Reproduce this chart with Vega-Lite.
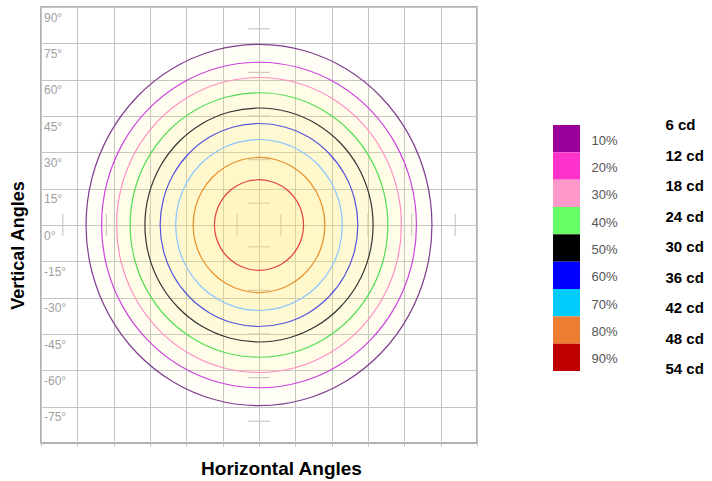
{
"$schema":"https://vega.github.io/schema/vega-lite/v6.json",
"autosize":{"type":"pad"},
"padding":{"left":8,"top":6,"right":0,"bottom":0},
"background":"white",
"datasets":{
"contours":[
{"c":"10%","o":0,"x":71.4,"y":0},{"c":"10%","o":1,"x":68.97,"y":19.31},{"c":"10%","o":2,"x":61.83,"y":37.3},{"c":"10%","o":3,"x":50.49,"y":52.75},{"c":"10%","o":4,"x":35.7,"y":64.6},{"c":"10%","o":5,"x":18.48,"y":72.06},{"c":"10%","o":6,"x":0,"y":74.6},{"c":"10%","o":7,"x":-18.48,"y":72.06},{"c":"10%","o":8,"x":-35.7,"y":64.6},{"c":"10%","o":9,"x":-50.49,"y":52.75},{"c":"10%","o":10,"x":-61.83,"y":37.3},{"c":"10%","o":11,"x":-68.97,"y":19.31},{"c":"10%","o":12,"x":-71.4,"y":0},{"c":"10%","o":13,"x":-68.97,"y":-19.31},{"c":"10%","o":14,"x":-61.83,"y":-37.3},{"c":"10%","o":15,"x":-50.49,"y":-52.75},{"c":"10%","o":16,"x":-35.7,"y":-64.6},{"c":"10%","o":17,"x":-18.48,"y":-72.06},{"c":"10%","o":18,"x":0,"y":-74.6},{"c":"10%","o":19,"x":18.48,"y":-72.06},{"c":"10%","o":20,"x":35.7,"y":-64.6},{"c":"10%","o":21,"x":50.49,"y":-52.75},{"c":"10%","o":22,"x":61.83,"y":-37.3},{"c":"10%","o":23,"x":68.97,"y":-19.31},
{"c":"20%","o":0,"x":65,"y":0},{"c":"20%","o":1,"x":62.78,"y":17.39},{"c":"20%","o":2,"x":56.29,"y":33.6},{"c":"20%","o":3,"x":45.96,"y":47.52},{"c":"20%","o":4,"x":32.5,"y":58.2},{"c":"20%","o":5,"x":16.82,"y":64.91},{"c":"20%","o":6,"x":0,"y":67.2},{"c":"20%","o":7,"x":-16.82,"y":64.91},{"c":"20%","o":8,"x":-32.5,"y":58.2},{"c":"20%","o":9,"x":-45.96,"y":47.52},{"c":"20%","o":10,"x":-56.29,"y":33.6},{"c":"20%","o":11,"x":-62.78,"y":17.39},{"c":"20%","o":12,"x":-65,"y":0},{"c":"20%","o":13,"x":-62.78,"y":-17.39},{"c":"20%","o":14,"x":-56.29,"y":-33.6},{"c":"20%","o":15,"x":-45.96,"y":-47.52},{"c":"20%","o":16,"x":-32.5,"y":-58.2},{"c":"20%","o":17,"x":-16.82,"y":-64.91},{"c":"20%","o":18,"x":0,"y":-67.2},{"c":"20%","o":19,"x":16.82,"y":-64.91},{"c":"20%","o":20,"x":32.5,"y":-58.2},{"c":"20%","o":21,"x":45.96,"y":-47.52},{"c":"20%","o":22,"x":56.29,"y":-33.6},{"c":"20%","o":23,"x":62.78,"y":-17.39},
{"c":"30%","o":0,"x":58.8,"y":0},{"c":"30%","o":1,"x":56.8,"y":15.76},{"c":"30%","o":2,"x":50.92,"y":30.45},{"c":"30%","o":3,"x":41.58,"y":43.06},{"c":"30%","o":4,"x":29.4,"y":52.74},{"c":"30%","o":5,"x":15.22,"y":58.82},{"c":"30%","o":6,"x":0,"y":60.9},{"c":"30%","o":7,"x":-15.22,"y":58.82},{"c":"30%","o":8,"x":-29.4,"y":52.74},{"c":"30%","o":9,"x":-41.58,"y":43.06},{"c":"30%","o":10,"x":-50.92,"y":30.45},{"c":"30%","o":11,"x":-56.8,"y":15.76},{"c":"30%","o":12,"x":-58.8,"y":0},{"c":"30%","o":13,"x":-56.8,"y":-15.76},{"c":"30%","o":14,"x":-50.92,"y":-30.45},{"c":"30%","o":15,"x":-41.58,"y":-43.06},{"c":"30%","o":16,"x":-29.4,"y":-52.74},{"c":"30%","o":17,"x":-15.22,"y":-58.82},{"c":"30%","o":18,"x":0,"y":-60.9},{"c":"30%","o":19,"x":15.22,"y":-58.82},{"c":"30%","o":20,"x":29.4,"y":-52.74},{"c":"30%","o":21,"x":41.58,"y":-43.06},{"c":"30%","o":22,"x":50.92,"y":-30.45},{"c":"30%","o":23,"x":56.8,"y":-15.76},
{"c":"40%","o":0,"x":53.2,"y":0},{"c":"40%","o":1,"x":51.39,"y":14.13},{"c":"40%","o":2,"x":46.07,"y":27.3},{"c":"40%","o":3,"x":37.62,"y":38.61},{"c":"40%","o":4,"x":26.6,"y":47.28},{"c":"40%","o":5,"x":13.77,"y":52.74},{"c":"40%","o":6,"x":0,"y":54.6},{"c":"40%","o":7,"x":-13.77,"y":52.74},{"c":"40%","o":8,"x":-26.6,"y":47.28},{"c":"40%","o":9,"x":-37.62,"y":38.61},{"c":"40%","o":10,"x":-46.07,"y":27.3},{"c":"40%","o":11,"x":-51.39,"y":14.13},{"c":"40%","o":12,"x":-53.2,"y":0},{"c":"40%","o":13,"x":-51.39,"y":-14.13},{"c":"40%","o":14,"x":-46.07,"y":-27.3},{"c":"40%","o":15,"x":-37.62,"y":-38.61},{"c":"40%","o":16,"x":-26.6,"y":-47.28},{"c":"40%","o":17,"x":-13.77,"y":-52.74},{"c":"40%","o":18,"x":0,"y":-54.6},{"c":"40%","o":19,"x":13.77,"y":-52.74},{"c":"40%","o":20,"x":26.6,"y":-47.28},{"c":"40%","o":21,"x":37.62,"y":-38.61},{"c":"40%","o":22,"x":46.07,"y":-27.3},{"c":"40%","o":23,"x":51.39,"y":-14.13},
{"c":"50%","o":0,"x":47.1,"y":0},{"c":"50%","o":1,"x":45.49,"y":12.5},{"c":"50%","o":2,"x":40.79,"y":24.15},{"c":"50%","o":3,"x":33.3,"y":34.15},{"c":"50%","o":4,"x":23.55,"y":41.83},{"c":"50%","o":5,"x":12.19,"y":46.65},{"c":"50%","o":6,"x":0,"y":48.3},{"c":"50%","o":7,"x":-12.19,"y":46.65},{"c":"50%","o":8,"x":-23.55,"y":41.83},{"c":"50%","o":9,"x":-33.3,"y":34.15},{"c":"50%","o":10,"x":-40.79,"y":24.15},{"c":"50%","o":11,"x":-45.49,"y":12.5},{"c":"50%","o":12,"x":-47.1,"y":0},{"c":"50%","o":13,"x":-45.49,"y":-12.5},{"c":"50%","o":14,"x":-40.79,"y":-24.15},{"c":"50%","o":15,"x":-33.3,"y":-34.15},{"c":"50%","o":16,"x":-23.55,"y":-41.83},{"c":"50%","o":17,"x":-12.19,"y":-46.65},{"c":"50%","o":18,"x":0,"y":-48.3},{"c":"50%","o":19,"x":12.19,"y":-46.65},{"c":"50%","o":20,"x":23.55,"y":-41.83},{"c":"50%","o":21,"x":33.3,"y":-34.15},{"c":"50%","o":22,"x":40.79,"y":-24.15},{"c":"50%","o":23,"x":45.49,"y":-12.5},
{"c":"60%","o":0,"x":40.8,"y":0},{"c":"60%","o":1,"x":39.41,"y":10.84},{"c":"60%","o":2,"x":35.33,"y":20.95},{"c":"60%","o":3,"x":28.85,"y":29.63},{"c":"60%","o":4,"x":20.4,"y":36.29},{"c":"60%","o":5,"x":10.56,"y":40.47},{"c":"60%","o":6,"x":0,"y":41.9},{"c":"60%","o":7,"x":-10.56,"y":40.47},{"c":"60%","o":8,"x":-20.4,"y":36.29},{"c":"60%","o":9,"x":-28.85,"y":29.63},{"c":"60%","o":10,"x":-35.33,"y":20.95},{"c":"60%","o":11,"x":-39.41,"y":10.84},{"c":"60%","o":12,"x":-40.8,"y":0},{"c":"60%","o":13,"x":-39.41,"y":-10.84},{"c":"60%","o":14,"x":-35.33,"y":-20.95},{"c":"60%","o":15,"x":-28.85,"y":-29.63},{"c":"60%","o":16,"x":-20.4,"y":-36.29},{"c":"60%","o":17,"x":-10.56,"y":-40.47},{"c":"60%","o":18,"x":0,"y":-41.9},{"c":"60%","o":19,"x":10.56,"y":-40.47},{"c":"60%","o":20,"x":20.4,"y":-36.29},{"c":"60%","o":21,"x":28.85,"y":-29.63},{"c":"60%","o":22,"x":35.33,"y":-20.95},{"c":"60%","o":23,"x":39.41,"y":-10.84},
{"c":"70%","o":0,"x":34.4,"y":0},{"c":"70%","o":1,"x":33.23,"y":9.14},{"c":"70%","o":2,"x":29.79,"y":17.65},{"c":"70%","o":3,"x":24.32,"y":24.96},{"c":"70%","o":4,"x":17.2,"y":30.57},{"c":"70%","o":5,"x":8.9,"y":34.1},{"c":"70%","o":6,"x":0,"y":35.3},{"c":"70%","o":7,"x":-8.9,"y":34.1},{"c":"70%","o":8,"x":-17.2,"y":30.57},{"c":"70%","o":9,"x":-24.32,"y":24.96},{"c":"70%","o":10,"x":-29.79,"y":17.65},{"c":"70%","o":11,"x":-33.23,"y":9.14},{"c":"70%","o":12,"x":-34.4,"y":0},{"c":"70%","o":13,"x":-33.23,"y":-9.14},{"c":"70%","o":14,"x":-29.79,"y":-17.65},{"c":"70%","o":15,"x":-24.32,"y":-24.96},{"c":"70%","o":16,"x":-17.2,"y":-30.57},{"c":"70%","o":17,"x":-8.9,"y":-34.1},{"c":"70%","o":18,"x":0,"y":-35.3},{"c":"70%","o":19,"x":8.9,"y":-34.1},{"c":"70%","o":20,"x":17.2,"y":-30.57},{"c":"70%","o":21,"x":24.32,"y":-24.96},{"c":"70%","o":22,"x":29.79,"y":-17.65},{"c":"70%","o":23,"x":33.23,"y":-9.14},
{"c":"80%","o":0,"x":27.2,"y":0},{"c":"80%","o":1,"x":26.27,"y":7.22},{"c":"80%","o":2,"x":23.56,"y":13.95},{"c":"80%","o":3,"x":19.23,"y":19.73},{"c":"80%","o":4,"x":13.6,"y":24.16},{"c":"80%","o":5,"x":7.04,"y":26.95},{"c":"80%","o":6,"x":0,"y":27.9},{"c":"80%","o":7,"x":-7.04,"y":26.95},{"c":"80%","o":8,"x":-13.6,"y":24.16},{"c":"80%","o":9,"x":-19.23,"y":19.73},{"c":"80%","o":10,"x":-23.56,"y":13.95},{"c":"80%","o":11,"x":-26.27,"y":7.22},{"c":"80%","o":12,"x":-27.2,"y":0},{"c":"80%","o":13,"x":-26.27,"y":-7.22},{"c":"80%","o":14,"x":-23.56,"y":-13.95},{"c":"80%","o":15,"x":-19.23,"y":-19.73},{"c":"80%","o":16,"x":-13.6,"y":-24.16},{"c":"80%","o":17,"x":-7.04,"y":-26.95},{"c":"80%","o":18,"x":0,"y":-27.9},{"c":"80%","o":19,"x":7.04,"y":-26.95},{"c":"80%","o":20,"x":13.6,"y":-24.16},{"c":"80%","o":21,"x":19.23,"y":-19.73},{"c":"80%","o":22,"x":23.56,"y":-13.95},{"c":"80%","o":23,"x":26.27,"y":-7.22},
{"c":"90%","o":0,"x":18.4,"y":0},{"c":"90%","o":1,"x":17.77,"y":4.84},{"c":"90%","o":2,"x":15.93,"y":9.35},{"c":"90%","o":3,"x":13.01,"y":13.22},{"c":"90%","o":4,"x":9.2,"y":16.19},{"c":"90%","o":5,"x":4.76,"y":18.06},{"c":"90%","o":6,"x":0,"y":18.7},{"c":"90%","o":7,"x":-4.76,"y":18.06},{"c":"90%","o":8,"x":-9.2,"y":16.19},{"c":"90%","o":9,"x":-13.01,"y":13.22},{"c":"90%","o":10,"x":-15.93,"y":9.35},{"c":"90%","o":11,"x":-17.77,"y":4.84},{"c":"90%","o":12,"x":-18.4,"y":0},{"c":"90%","o":13,"x":-17.77,"y":-4.84},{"c":"90%","o":14,"x":-15.93,"y":-9.35},{"c":"90%","o":15,"x":-13.01,"y":-13.22},{"c":"90%","o":16,"x":-9.2,"y":-16.19},{"c":"90%","o":17,"x":-4.76,"y":-18.06},{"c":"90%","o":18,"x":0,"y":-18.7},{"c":"90%","o":19,"x":4.76,"y":-18.06},{"c":"90%","o":20,"x":9.2,"y":-16.19},{"c":"90%","o":21,"x":13.01,"y":-13.22},{"c":"90%","o":22,"x":15.93,"y":-9.35},{"c":"90%","o":23,"x":17.77,"y":-4.84}
],
"crossticks":[
{"x":-4.5,"x2":4.5,"y":9,"y2":9},{"x":-4.5,"x2":4.5,"y":27,"y2":27},{"x":-4.5,"x2":4.5,"y":45,"y2":45},{"x":-4.5,"x2":4.5,"y":63,"y2":63},{"x":-4.5,"x2":4.5,"y":81,"y2":81},
{"x":-4.5,"x2":4.5,"y":-9,"y2":-9},{"x":-4.5,"x2":4.5,"y":-27,"y2":-27},{"x":-4.5,"x2":4.5,"y":-45,"y2":-45},{"x":-4.5,"x2":4.5,"y":-63,"y2":-63},{"x":-4.5,"x2":4.5,"y":-81,"y2":-81},
{"x":9,"x2":9,"y":-4.5,"y2":4.5},{"x":27,"x2":27,"y":-4.5,"y2":4.5},{"x":45,"x2":45,"y":-4.5,"y2":4.5},{"x":63,"x2":63,"y":-4.5,"y2":4.5},{"x":81,"x2":81,"y":-4.5,"y2":4.5},
{"x":-9,"x2":-9,"y":-4.5,"y2":4.5},{"x":-27,"x2":-27,"y":-4.5,"y2":4.5},{"x":-45,"x2":-45,"y":-4.5,"y2":4.5},{"x":-63,"x2":-63,"y":-4.5,"y2":4.5},{"x":-81,"x2":-81,"y":-4.5,"y2":4.5}
],
"levels":[
{"p":"10%","col":"#990099"},{"p":"20%","col":"#ff33cc"},{"p":"30%","col":"#ff99cc"},{"p":"40%","col":"#66ff66"},{"p":"50%","col":"#000000"},{"p":"60%","col":"#0000ff"},{"p":"70%","col":"#00ccff"},{"p":"80%","col":"#ed7d31"},{"p":"90%","col":"#c00000"}
],
"candela":[
{"cd":"6 cd"},{"cd":"12 cd"},{"cd":"18 cd"},{"cd":"24 cd"},{"cd":"30 cd"},{"cd":"36 cd"},{"cd":"42 cd"},{"cd":"48 cd"},{"cd":"54 cd"}
]
},
"hconcat":[
{
"width":436,"height":436,
"view":{"stroke":"#999999","strokeWidth":1.5},
"encoding":{
"x":{"field":"x","type":"quantitative","scale":{"domain":[-90,90],"nice":false,"zero":false},
"axis":{"title":"Horizontal Angles","values":[-90,-75,-60,-45,-30,-15,0,15,30,45,60,75,90],"labels":false,"domain":false,"ticks":true,"tickSize":3,"tickColor":"#c4c4c4","grid":true,"gridColor":"#c4c4c4","gridWidth":1,"titleFont":"Liberation Sans","titleFontSize":19,"titleFontWeight":"bold","titleColor":"#000000","titleX":240,"titleY":31,"titleAlign":"center","titleBaseline":"alphabetic"}},
"y":{"field":"y","type":"quantitative","scale":{"domain":[-90,90],"nice":false,"zero":false},
"axis":{"title":"Vertical Angles","values":[90,75,60,45,30,15,0,-15,-30,-45,-60,-75],"labelExpr":"datum.value + '°'","domain":false,"ticks":false,"tickSize":0,"grid":true,"gridColor":"#c4c4c4","gridWidth":1,"labelAlign":"left","labelBaseline":"top","labelPadding":-2.5,"labelOffset":5,"labelFlush":false,"labelOverlap":false,"labelBound":false,"labelFont":"Liberation Sans","labelFontSize":12,"labelColor":"#a0a0a0","titleFont":"Liberation Sans","titleFontSize":18,"titleFontWeight":"bold","titleColor":"#000000","titleX":-18,"titleY":238,"titleAngle":270,"titleAlign":"center","titleBaseline":"alphabetic"}}
},
"layer":[
{"data":{"name":"crossticks"},
"mark":{"type":"rule","color":"#c8c8c8","strokeWidth":1.2},
"encoding":{"x2":{"field":"x2"},"y2":{"field":"y2"}}},
{"data":{"name":"contours"},
"mark":{"type":"line","interpolate":"cardinal-closed","fill":"#fff27a","fillOpacity":0.06,"strokeWidth":1.2},
"encoding":{
"stroke":{"field":"c","type":"nominal","scale":{"domain":["10%","20%","30%","40%","50%","60%","70%","80%","90%"],"range":["#7f3f8f","#cc44dd","#ff8fc4","#55dd55","#333333","#5555dd","#88c4ff","#e8902c","#e04444"]},"legend":null},
"order":{"field":"o","type":"quantitative"}}}
]
},
{
"width":27,"height":436,
"view":{"stroke":null},
"layer":[
{"data":{"name":"levels"},
"mark":{"type":"rect"},
"encoding":{
"y":{"field":"p","type":"nominal","sort":null,"scale":{"range":[118,364],"paddingInner":0,"paddingOuter":0},"axis":null},
"fill":{"field":"col","type":"nominal","scale":null,"legend":null}}},
{"data":{"name":"levels"},
"mark":{"type":"text","align":"left","baseline":"middle","dx":25,"dy":2,"font":"Liberation Sans","fontSize":13,"color":"#555555"},
"encoding":{
"y":{"field":"p","type":"nominal","sort":null,"scale":{"range":[118,364],"paddingInner":0,"paddingOuter":0},"axis":null},
"text":{"field":"p"}}},
{"data":{"name":"candela"},
"mark":{"type":"text","align":"left","baseline":"middle","dx":99,"font":"Liberation Sans","fontSize":15,"fontWeight":"bold","color":"#000000"},
"encoding":{
"y":{"field":"cd","type":"nominal","sort":null,"scale":{"range":[102.75,377.25],"paddingInner":0,"paddingOuter":0},"axis":null},
"text":{"field":"cd"}}}
],
"resolve":{"scale":{"y":"independent"}}
}
],
"spacing":76,
"bounds":"flush"
}
